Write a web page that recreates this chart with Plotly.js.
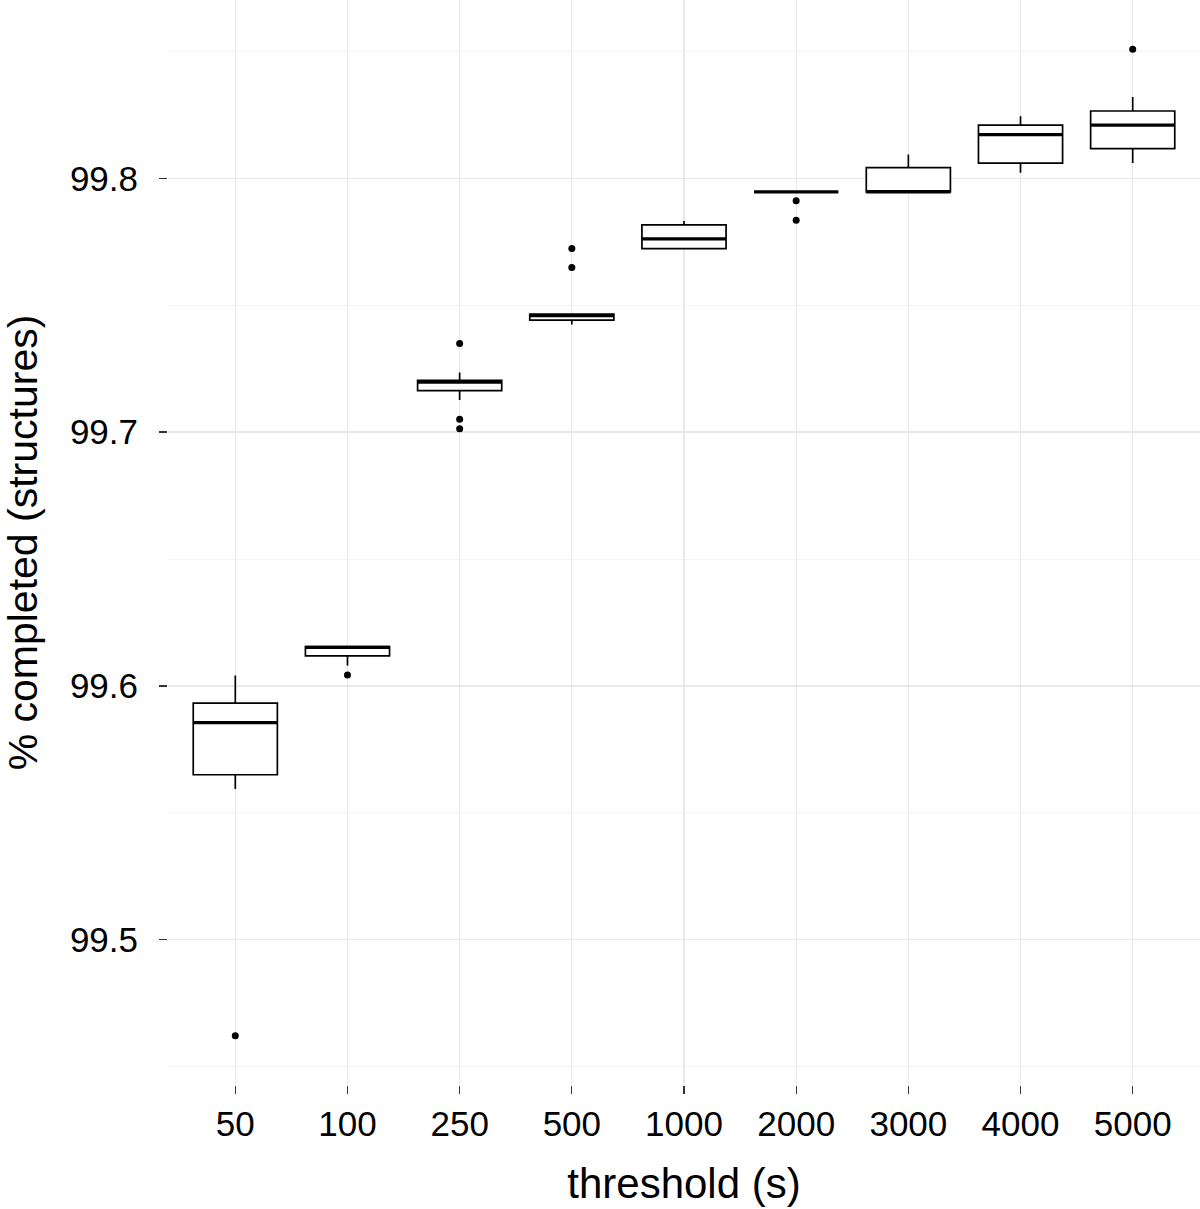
<!DOCTYPE html>
<html>
<head>
<meta charset="utf-8">
<script src="https://cdn.plot.ly/plotly-3.0.1.min.js"></script>
<style>
html,body{margin:0;padding:0;background:#fff;}
#chart{width:1200px;height:1209px;}
</style>
</head>
<body>
<div id="chart"></div>
<script>
const thresholds = ["50", "100", "250", "500", "1000", "2000", "3000", "4000", "5000"];
const q1         = [99.5650, 99.6118, 99.7163, 99.7441, 99.7723, 99.7946, 99.7946, 99.8060, 99.8117];
const medians    = [99.5855, 99.6152, 99.7197, 99.7459, 99.7761, 99.7946, 99.7946, 99.8172, 99.8209];
const q3         = [99.5932, 99.6155, 99.7204, 99.7465, 99.7816, 99.7946, 99.8042, 99.8209, 99.8265];
const lowerWhisk = [99.5594, 99.6080, 99.7126, 99.7424, 99.7723, 99.7946, 99.7946, 99.8022, 99.8060];
const upperWhisk = [99.6041, 99.6155, 99.7235, 99.7465, 99.7832, 99.7946, 99.8094, 99.8244, 99.8320];
const outlierX   = ["50", "100", "250", "250", "250", "500", "500", "2000", "2000", "5000"];
const outlierY   = [99.4622, 99.6043, 99.7349, 99.7051, 99.7013, 99.7723, 99.7648, 99.7911, 99.7835, 99.8508];

const allY = lowerWhisk.concat(upperWhisk, outlierY);
const yMin = Math.min(...allY), yMax = Math.max(...allY);
const pad = (yMax - yMin) * 0.05;

const FONT = '"Liberation Sans", Arial, Helvetica, sans-serif';
const BOX_FRACTION = 0.75;
const PLOT_W = 1200 - 168;
const catPx = PLOT_W / (thresholds.length + 0.2);
// line-ew marker spans 1.4 * size pixels
const medianMarkerSize = BOX_FRACTION * catPx / 1.4;

const traces = [
  {
    type: 'box',
    x: thresholds,
    q1: q1, median: medians, q3: q3,
    lowerfence: lowerWhisk, upperfence: upperWhisk,
    fillcolor: '#ffffff',
    line: {color: '#000000', width: 1.7},
    whiskerwidth: 0,
    boxpoints: false,
    hoverinfo: 'skip',
    showlegend: false
  },
  {
    type: 'scatter', mode: 'markers',
    x: thresholds, y: medians,
    marker: {symbol: 'line-ew', size: medianMarkerSize, color: '#000', line: {color: '#000', width: 3.2}},
    hoverinfo: 'skip', showlegend: false
  },
  {
    type: 'scatter', mode: 'markers',
    x: outlierX, y: outlierY,
    marker: {symbol: 'circle', size: 7, color: '#000'},
    hoverinfo: 'skip', showlegend: false
  }
];

const layout = {
  width: 1200, height: 1209,
  margin: {l: 168, r: 0, t: 0, b: 124, pad: 0},
  paper_bgcolor: '#ffffff', plot_bgcolor: '#ffffff',
  font: {family: FONT, color: '#000'},
  boxgap: 1 - BOX_FRACTION, boxgroupgap: 0,
  showlegend: false,
  xaxis: {
    type: 'category',
    categoryorder: 'array', categoryarray: thresholds,
    range: [-0.6, thresholds.length - 0.4],
    showgrid: true, gridcolor: '#e8e8e8', gridwidth: 1.3,
    zeroline: false, showline: false,
    ticks: 'outside', ticklen: 8, tickwidth: 1.2, tickcolor: '#333333',
    tickfont: {family: FONT, size: 35, color: '#000'},
    ticklabelstandoff: 0,
    title: {text: 'threshold (s)', font: {family: FONT, size: 42, color: '#000'}, standoff: 26}
  },
  yaxis: {
    range: [yMin - pad, yMax + pad],
    tickmode: 'array',
    tickvals: [99.5, 99.6, 99.7, 99.8],
    ticktext: ['99.5', '99.6', '99.7', '99.8'],
    showgrid: true, gridcolor: '#e8e8e8', gridwidth: 1.3,
    minor: {tickmode: 'array', tickvals: [99.45, 99.55, 99.65, 99.75, 99.85], showgrid: true, gridcolor: '#f4f4f4', gridwidth: 1, ticks: ''},
    zeroline: false, showline: false,
    ticks: 'outside', ticklen: 8, tickwidth: 1.2, tickcolor: '#333333',
    tickfont: {family: FONT, size: 35, color: '#000'},
    ticklabelstandoff: 14,
    title: {text: '% completed (structures)', font: {family: FONT, size: 41, color: '#000'}, standoff: 22}
  }
};

Plotly.newPlot('chart', traces, layout, {displayModeBar: false, staticPlot: true});
</script>
</body>
</html>
